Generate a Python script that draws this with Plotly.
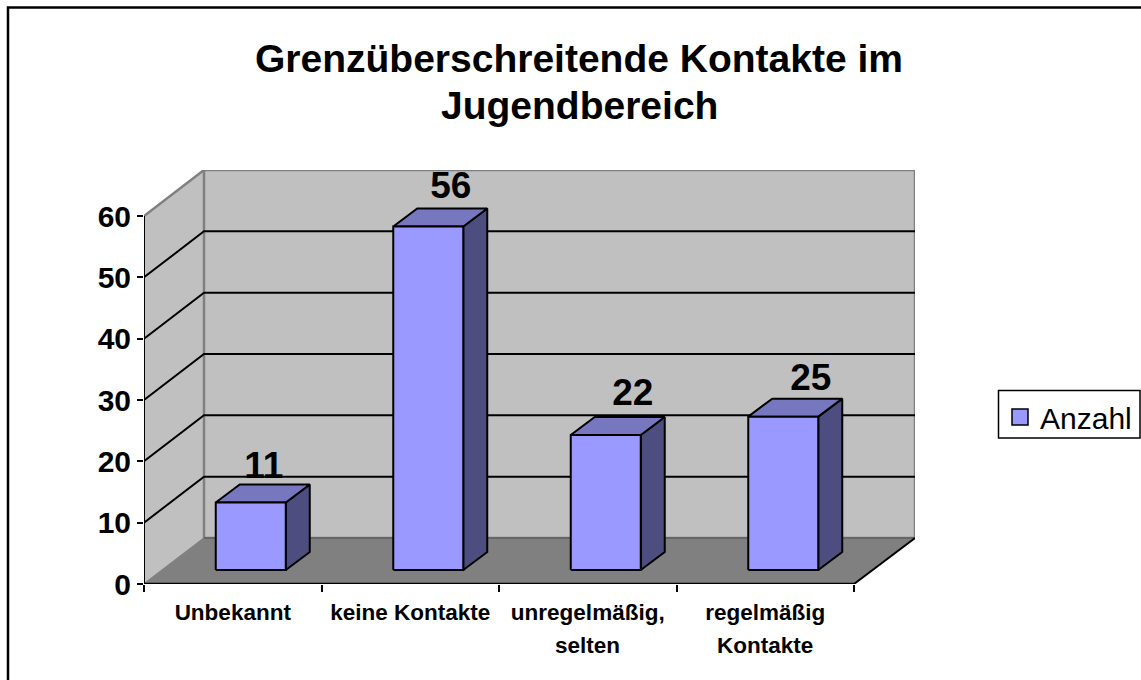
import plotly.graph_objects as go

# --- data ---
categories = ["Unbekannt", "keine Kontakte", "unregelmäßig,", "regelmäßig"]
categories_line2 = ["", "", "selten", "Kontakte"]
values = [11, 56, 22, 25]
y_ticks = [0, 10, 20, 30, 40, 50, 60]
series_name = "Anzahl"
title_lines = ["Grenzüberschreitende Kontakte im", "Jugendbereich"]

# --- geometry of the faux 3D box (data units) ---
X_PX = 177.5          # px per category
Y_PX = 368 / 60       # px per value unit
XMAX = 771 / X_PX
YMAX = 414 / Y_PX
DX = 60 / X_PX        # box depth
DY = 46 / Y_PX
BAR_W = 70 / X_PX
BAR_DX = 24 / X_PX
BAR_DY = 18 / Y_PX
BAR_OFF_X = 18 / X_PX
BAR_OFF_Y = 14 / Y_PX
LABEL_NUDGE = [13 / X_PX, 22.5 / X_PX, 27 / X_PX, 27.5 / X_PX]
LABEL_RISE = [16 / Y_PX, 20 / Y_PX, 21 / Y_PX, 18 / Y_PX]
n = len(values)
top = y_ticks[-1]

FONT = "Liberation Sans"


def px_x(p):
    return (p - 144) / 771


def px_y(p):
    return (584 - p) / 414


fig = go.Figure()


def poly(xs, ys, fill=None, line=None, lw=2):
    fig.add_trace(go.Scatter(
        x=xs, y=ys, mode="lines", hoverinfo="skip", showlegend=False, cliponaxis=False,
        fill="toself" if fill else "none", fillcolor=fill,
        line=dict(color=line or "rgba(0,0,0,0)", width=lw if line else 0),
    ))


# walls and floor
poly([0, DX, DX, 0, 0], [0, DY, top + DY, top, 0], "#C0C0C0")
poly([DX, XMAX, XMAX, DX, DX], [DY, DY, top + DY, top + DY, DY], "#C0C0C0")
poly([0, DX, XMAX, n, 0], [0, DY, DY, 0, 0], "#808080")
poly([0, DX, DX, XMAX, XMAX, DX], [top, top + DY, DY, DY, top + DY, top + DY], None, "#808080", 2.5)
poly([0, DX], [0, DY], None, "#808080", 1.5)
poly([DX, XMAX], [DY, DY], None, "#666666", 2)
for v in y_ticks[1:-1]:
    poly([0, DX, XMAX], [v, v + DY, v + DY], None, "#000000", 2)
poly([n, XMAX], [0, DY], None, "#000000", 2)
poly([0, 0], [0, top], None, "#000000", 2)
poly([0, n], [0, 0], None, "#000000", 2.5)

# bars
for i, v in enumerate(values):
    x0 = i + 0.5 + BAR_OFF_X - BAR_W / 2
    x1 = x0 + BAR_W
    y0 = BAR_OFF_Y
    y1 = v + BAR_OFF_Y
    poly([x1, x1 + BAR_DX, x1 + BAR_DX, x1, x1], [y0, y0 + BAR_DY, y1 + BAR_DY, y1, y0],
         "#4D4D80", "#000000")
    poly([x0, x0 + BAR_DX, x1 + BAR_DX, x1, x0], [y1, y1 + BAR_DY, y1 + BAR_DY, y1, y1],
         "#7777BF", "#000000")
    poly([x0, x1, x1, x0, x0], [y0, y0, y1, y1, y0], "#9999FF", "#000000")

# data labels
fig.add_trace(go.Scatter(
    x=[i + 0.5 + BAR_OFF_X + LABEL_NUDGE[i] for i in range(n)],
    y=[v + BAR_OFF_Y + BAR_DY + LABEL_RISE[i] for i, v in enumerate(values)],
    mode="text", text=[str(v) for v in values], textposition="middle center",
    textfont=dict(family=FONT, size=37, color="#000000", weight="bold"),
    hoverinfo="skip", showlegend=False, cliponaxis=False,
))

# legend entry
fig.add_trace(go.Scatter(
    x=[None], y=[None], mode="markers", name=series_name,
    marker=dict(symbol="square", size=18, color="#9999FF", line=dict(color="#000000", width=1.5)),
))

# second lines of the category labels and of the title
annotations = [
    dict(x=i + 0.5, y=0, xref="x", yref="paper", yshift=-47, yanchor="top", text=t, showarrow=False,
         font=dict(family=FONT, size=22.5, color="#000000", weight="bold"))
    for i, t in enumerate(categories_line2) if t
]
annotations.append(dict(
    x=px_x(579), y=px_y(106), xref="paper", yref="paper", xanchor="center", yanchor="middle",
    text=title_lines[1], showarrow=False,
    font=dict(family=FONT, size=39, color="#000000", weight="bold"),
))

fig.update_layout(
    width=1141, height=680,
    margin=dict(l=144, r=226, t=170, b=96, pad=0, autoexpand=False),
    paper_bgcolor="#FFFFFF", plot_bgcolor="rgba(0,0,0,0)",
    font=dict(family=FONT, color="#000000"),
    title=dict(
        text=title_lines[0], x=579 / 1141, xanchor="center", y=1 - 58 / 680, yanchor="middle",
        font=dict(family=FONT, size=39, color="#000000", weight="bold"),
    ),
    xaxis=dict(
        range=[0, XMAX], showgrid=False, zeroline=False, showline=False,
        tickmode="array", tickvals=[i + 0.5 for i in range(n)], ticktext=categories,
        ticks="", ticklabelstandoff=12,
        tickfont=dict(family=FONT, size=22.5, weight="bold"),
        minor=dict(tickmode="array", tickvals=list(range(n + 1)), ticks="outside",
                   ticklen=7, tickwidth=1.5, tickcolor="#000000", showgrid=False),
    ),
    yaxis=dict(
        range=[0, YMAX], showgrid=False, zeroline=False, showline=False,
        tickmode="array", tickvals=y_ticks, ticks="outside", ticklen=6, tickwidth=1.5,
        tickcolor="#000000", tickfont=dict(family=FONT, size=30, weight="bold"),
    ),
    legend=dict(
        x=px_x(1000), xanchor="left", y=px_y(391), yanchor="top",
        bgcolor="rgba(0,0,0,0)", borderwidth=0,
        font=dict(family=FONT, size=30, color="#000000"),
    ),
    annotations=annotations,
    shapes=[
        dict(type="rect", xref="paper", yref="paper", layer="below",
             x0=px_x(8), x1=1.3, y0=-0.3, y1=px_y(7.5),
             line=dict(color="#000000", width=2.5)),
        dict(type="rect", xref="paper", yref="paper", layer="below",
             x0=px_x(998.5), x1=px_x(1140), y0=px_y(438), y1=px_y(390.5),
             line=dict(color="#000000", width=1.5), fillcolor="#FFFFFF"),
    ],
    showlegend=True,
)

fig.write_html("out.html", config={"displayModeBar": False},
               post_script="document.body.style.margin='0';")
